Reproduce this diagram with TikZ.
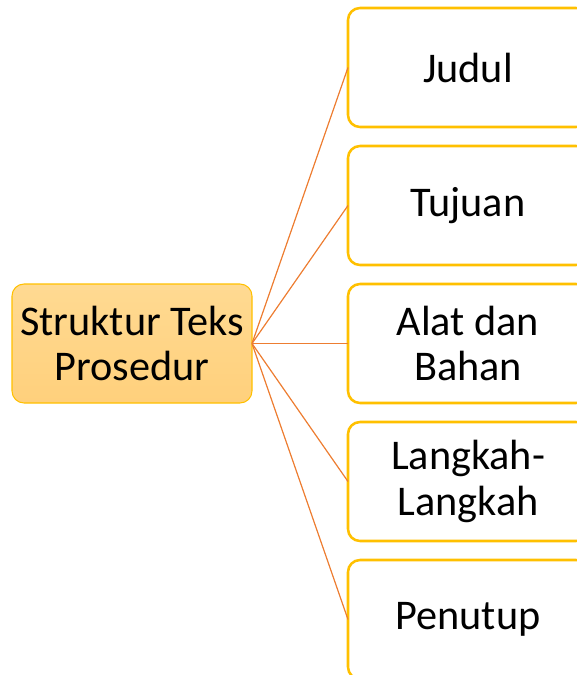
\documentclass[tikz,border=0pt]{standalone}
\usepackage{fontspec}
\setmainfont{Carlito}
\usepackage{tikz}
\usetikzlibrary{positioning}
\definecolor{gold}{HTML}{FFC000}
\definecolor{edgeorange}{HTML}{ED7D31}
\definecolor{roottop}{HTML}{FFDA92}
\definecolor{rootbottom}{HTML}{FFD07C}

\begin{document}
\begin{tikzpicture}[x=0.75pt, y=-0.75pt,
    font=\fontsize{31.7}{34}\selectfont,
    root/.style = {draw=gold, line width=0.8pt, rounded corners=9pt,
        top color=roottop, bottom color=rootbottom, outer sep=0pt,
        minimum width=180pt, minimum height=89.25pt, align=center, inner sep=0pt},
    part/.style = {draw=gold, line width=1.9pt, rounded corners=9pt, fill=white,
        outer sep=0pt,
        minimum width=180pt, minimum height=89.25pt, align=center, inner sep=0pt},
    link/.style = {draw=edgeorange, line width=0.9pt}]
            \clip (0,0) rectangle (577,675);
            % Nodes
            \node[root] (root) at (132,343.5) {Struktur Teks\\Prosedur};
            \node[part] (judul) at (468,67.5) {Judul};
            \node[part] (tujuan) [below=14.25pt of judul] {Tujuan};
            \node[part] (alat) [below=14.25pt of tujuan] {Alat dan\\Bahan};
            \node[part] (langkah) [below=14.25pt of alat] {Langkah-\\Langkah};
            \node[part] (penutup) [below=14.25pt of langkah] {Penutup};
            % Edges
            \draw[link] (root.east) -- (judul.west);
            \draw[link] (root.east) -- (tujuan.west);
            \draw[link] (root.east) -- (alat.west);
            \draw[link] (root.east) -- (langkah.west);
            \draw[link] (root.east) -- (penutup.west);
\end{tikzpicture}
\end{document}
